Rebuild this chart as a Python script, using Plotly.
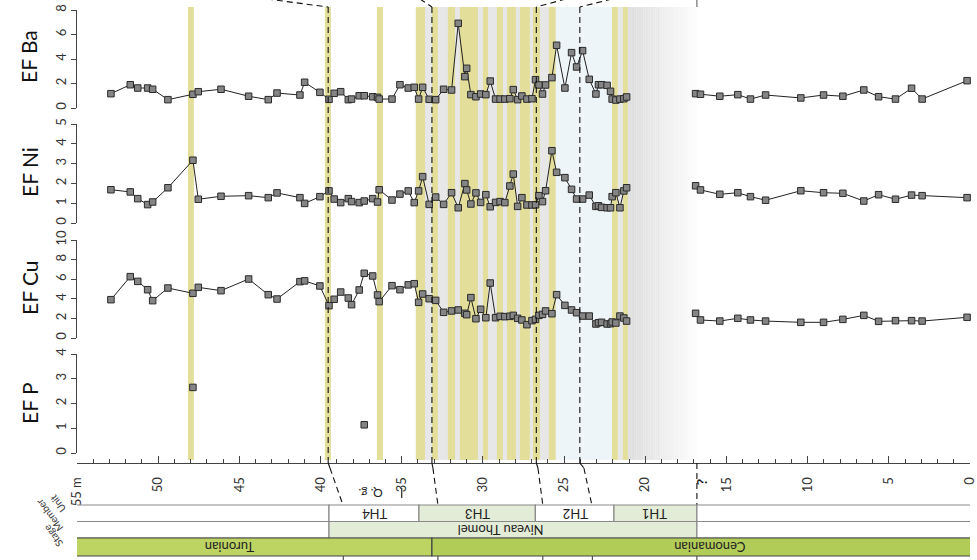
import plotly.graph_objects as go

W, H = 977, 560
FONT = "Lato"

# ---------------- data (depth in m) ----------------
depth = [52.91, 51.72, 51.26, 50.65, 50.34, 49.40, 47.86, 47.53, 46.13, 44.43,
         43.22, 42.68, 41.27, 40.98, 40.04, 39.48, 39.16, 38.76, 38.29, 38.09,
         37.62, 37.31, 36.79, 36.49, 36.39, 35.60, 35.11, 34.60, 34.23, 33.96,
         33.71, 33.31, 32.91, 32.42, 31.93, 31.52, 31.11, 31.00, 30.74, 30.43,
         30.14, 29.82, 29.55, 29.22, 28.94, 28.65, 28.34, 28.13, 27.86, 27.60,
         27.29, 26.98, 26.76, 26.55, 26.33, 26.14, 25.75, 25.46, 24.95, 24.54,
         24.23, 23.86, 23.45, 23.04, 22.88, 22.69, 22.35, 22.14, 22.04, 21.81,
         21.56, 21.32, 21.15,
         16.90, 16.60, 15.41, 14.30, 13.52, 12.59, 10.42, 9.02, 7.83, 6.54,
         5.63, 4.59, 3.60, 2.95, 0.18]

ef_ba = [1.17, 1.90, 1.63, 1.63, 1.53, 0.68, 1.12, 1.33, 1.53, 0.96,
         0.68, 1.22, 1.06, 2.10, 1.28, 0.71, 1.20, 1.33, 0.68, 0.73,
         1.00, 1.00, 0.92, 0.87, 0.73, 0.73, 1.90, 1.63, 1.69, 0.73,
         1.69, 0.71, 0.68, 1.53, 1.47, 6.91, 2.56, 3.24, 1.09, 0.92,
         1.14, 1.09, 2.20, 0.73, 0.73, 0.73, 0.76, 1.50, 0.68, 0.98,
         0.73, 0.76, 2.31, 1.88, 1.14, 1.88, 2.48, 5.12, 1.63, 4.52,
         3.35, 4.68, 2.34, 1.14, 1.90, 1.90, 1.85, 1.36, 0.73, 0.65,
         0.73, 0.76, 0.90,
         1.17, 1.12, 0.96, 1.09, 0.73, 1.06, 0.82, 1.06, 0.96, 1.47,
         0.92, 0.73, 1.61, 0.73, 2.23]

ef_ni = [1.68, 1.57, 1.23, 0.93, 1.06, 1.78, 3.17, 1.20, 1.35, 1.38,
         1.28, 1.52, 1.28, 0.99, 1.33, 1.62, 1.21, 1.03, 1.23, 1.08,
         1.03, 1.11, 1.23, 1.06, 1.68, 1.16, 1.46, 1.62, 1.03, 1.62,
         2.34, 0.94, 1.31, 0.94, 1.53, 0.77, 1.99, 1.67, 0.96, 1.52,
         1.04, 1.43, 0.82, 1.04, 1.08, 1.03, 1.87, 2.47, 0.84, 1.28,
         0.91, 0.91, 0.92, 1.38, 1.08, 1.63, 3.65, 2.56, 2.29, 1.70,
         1.21, 1.21, 1.41, 0.84, 0.87, 0.79, 0.77, 0.77, 1.33, 1.53,
         0.77, 1.62, 1.78,
         1.88, 1.67, 1.45, 1.53, 1.33, 1.15, 1.63, 1.53, 1.50, 1.11,
         1.43, 1.20, 1.41, 1.38, 1.28]

ef_cu = [3.91, 6.26, 5.78, 4.93, 3.81, 5.10, 4.56, 5.17, 4.83, 6.02,
         4.42, 3.98, 5.75, 5.83, 5.31, 3.30, 3.95, 4.69, 4.08, 3.40,
         4.90, 6.60, 6.33, 4.39, 3.71, 5.34, 4.93, 5.42, 5.54, 3.64,
         4.49, 4.01, 3.84, 2.62, 2.76, 2.86, 2.52, 2.38, 4.12, 1.97,
         2.93, 2.07, 5.61, 2.07, 2.21, 2.18, 2.21, 2.31, 2.01, 1.84,
         1.36, 1.77, 1.90, 2.31, 2.41, 2.76, 2.48, 4.42, 3.33, 2.86,
         2.58, 2.24, 2.24, 1.43, 1.56, 1.60, 1.43, 1.46, 1.63, 1.53,
         2.24, 2.04, 1.73,
         2.52, 1.84, 1.73, 2.01, 1.84, 1.73, 1.60, 1.60, 1.90, 2.31,
         1.70, 1.77, 1.77, 1.73, 2.11]

p_depth = [47.86, 37.31]
ef_p = [2.65, 1.14]

x_tickvals = [55, 50, 45, 40, 35, 30, 25, 20, 15, 10, 5, 0]
x_ticktext = ["55 m", "50", "45", "40", "35", "30", "25", "20", "15", "10", "5", "0"]

# shaded intervals (depth from, to)
yellow_bands = [(48.17, 47.80), (39.73, 39.36), (36.53, 36.16), (34.13, 33.57),
                (33.14, 32.77), (32.16, 31.72), (31.42, 30.31), (30.00, 29.69),
                (29.14, 28.77), (28.52, 27.97), (27.72, 27.11), (26.92, 26.49),
                (25.94, 25.51), (22.06, 21.69), (21.38, 21.07)]
grey_bands = [(33.57, 33.14), (32.77, 32.16), (31.72, 31.42), (30.31, 30.00),
              (29.69, 29.14), (28.77, 28.52), (27.97, 27.72), (27.11, 26.92),
              (26.49, 25.94), (21.69, 21.38)]
blue_band = (25.51, 22.06)
fade_band = (21.07, 16.82)

# stratigraphy (depth from, to, label, fill)
units = [(55.55, 39.48, "", "white"), (39.48, 33.94, "TH4", "white"),
         (33.94, 26.77, "TH3", "#e2ecd6"), (26.77, 21.93, "TH2", "white"),
         (21.93, 16.82, "TH1", "#e2ecd6"), (16.82, -0.17, "", "white")]
unit_label_pos = [None, 36.7, 30.3, 24.3, 19.4, None]
members = [(55.55, 39.48, "", "white"), (39.48, 16.82, "Niveau Thomel", "#e2ecd6"),
           (16.82, -0.17, "", "white")]
member_label_pos = [None, 28.9, None]
stages = [(55.55, 33.14, "Turonian", "#bdd362"), (33.14, -0.17, "Cenomanian", "#b2cc58")]
stage_label_pos = [45.6, 16.0]

L, R = 77, 970


def yp(px):
    return 1 - px / H


def xp(px):
    return (px - L) / (R - L)


def with_gaps(d, v, gap=3.0):
    xs, ys = [], []
    for i in range(len(d)):
        if i > 0 and abs(d[i] - d[i - 1]) > gap:
            xs.append(None)
            ys.append(None)
        xs.append(d[i])
        ys.append(v[i])
    return xs, ys


fig = go.Figure()
marker = dict(symbol="square", size=6.5, color="#858585", line=dict(color="#2a2a2a", width=1))
line = dict(color="#222222", width=1)

for vals, ax in [(ef_ba, "y"), (ef_ni, "y2"), (ef_cu, "y3")]:
    xs, ys = with_gaps(depth, vals)
    fig.add_trace(go.Scatter(x=xs, y=ys, mode="lines+markers", marker=marker, line=line,
                             yaxis=ax, xaxis="x", showlegend=False, connectgaps=False,
                             cliponaxis=False, hoverinfo="skip"))
fig.add_trace(go.Scatter(x=p_depth, y=ef_p, mode="markers", marker=marker,
                         yaxis="y4", xaxis="x", showlegend=False, hoverinfo="skip"))

shapes = []
top_y, bot_y = yp(7), yp(460)
shapes.append(dict(type="rect", xref="x", yref="paper", x0=34.13, x1=25.51, y0=bot_y, y1=top_y,
                   fillcolor="#e7e7e7", line_width=0, layer="below"))
for a, b in grey_bands:
    shapes.append(dict(type="rect", xref="x", yref="paper", x0=a, x1=b, y0=bot_y, y1=top_y,
                       fillcolor="#e7e7e7", line_width=0, layer="below"))
for a, b in yellow_bands:
    shapes.append(dict(type="rect", xref="x", yref="paper", x0=a, x1=b, y0=bot_y, y1=top_y,
                       fillcolor="#e3de9a", line_width=0, layer="below"))
shapes.append(dict(type="rect", xref="x", yref="paper", x0=blue_band[0], x1=blue_band[1],
                   y0=bot_y, y1=top_y, fillcolor="#edf5f8", line_width=0, layer="below"))
n = 40
a, b = fade_band
for i in range(n):
    g = int(0xdd + (0xfd - 0xdd) * i / (n - 1))
    x0 = a + (b - a) * i / n
    x1 = a + (b - a) * (i + 1) / n
    shapes.append(dict(type="rect", xref="x", yref="paper", x0=x0, x1=x1 - 0.005, y0=bot_y, y1=top_y,
                       fillcolor=f"rgb({g},{g},{g})", line_width=0, layer="below"))

dash = dict(color="#111111", width=1.1, dash="6px,4px")
corr = [
    (39.53, 43.3, (39.42, 38.62), 38.60),
    (33.14, 33.88, (33.08, 32.77), 32.77),
    (26.71, 24.9, (26.61, 26.31), 26.31),
    (24.03, 22.06, (23.78, 23.29), 23.26),
]
for dmain, dtop, (b0, b1), dlow in corr:
    shapes.append(dict(type="line", xref="x", yref="paper", x0=dmain, x1=dmain,
                       y0=yp(7), y1=yp(463), line=dash, layer="above"))
    shapes.append(dict(type="line", xref="x", yref="paper", x0=dtop, x1=dmain,
                       y0=yp(-1), y1=yp(7), line=dash, layer="above"))
    shapes.append(dict(type="line", xref="x", yref="paper", x0=dmain, x1=b0,
                       y0=yp(463), y1=yp(468), line=dash, layer="above"))
    shapes.append(dict(type="line", xref="x", yref="paper", x0=b0, x1=b1,
                       y0=yp(468), y1=yp(505), line=dash, layer="above"))
    shapes.append(dict(type="line", xref="x", yref="paper", x0=dlow, x1=dlow,
                       y0=yp(556), y1=yp(561), line=dict(color="#333", width=1)))
shapes.append(dict(type="line", xref="x", yref="paper", x0=16.82, x1=16.82,
                   y0=yp(-1), y1=yp(7), line=dict(color="#555", width=1)))
shapes.append(dict(type="line", xref="x", yref="paper", x0=16.82, x1=16.82,
                   y0=yp(463), y1=yp(505), line=dash))
shapes.append(dict(type="line", xref="x", yref="paper", x0=16.82, x1=16.82,
                   y0=yp(556), y1=yp(561), line=dict(color="#333", width=1)))
shapes.append(dict(type="line", xref="x", yref="paper", x0=35.0, x1=35.0,
                   y0=yp(488), y1=yp(498), line=dict(color="#222", width=1.2)))

annotations = []
rows = [(units, unit_label_pos, 505, 521.5, "#8a8a8a"),
        (members, member_label_pos, 521.5, 538, "#8a8a8a"),
        (stages, stage_label_pos, 538, 556, "#444444")]
for items, lpos, ytop, ybot, lc in rows:
    for (d0, d1, lab, fill), lp in zip(items, lpos):
        shapes.append(dict(type="rect", xref="x", yref="paper", x0=d0, x1=d1,
                           y0=yp(ybot), y1=yp(ytop), fillcolor=fill,
                           line=dict(color=lc, width=1.2)))
        if lab:
            annotations.append(dict(x=lp, y=yp((ytop + ybot) / 2), xref="x", yref="paper",
                                    text=lab, showarrow=False, textangle=180,
                                    xanchor="center", yanchor="middle",
                                    font=dict(family=FONT, size=13, color="#222")))

annotations.append(dict(x=36.9, y=yp(494), xref="x", yref="paper", text="Q. g.",
                        showarrow=False, textangle=180, xanchor="center", yanchor="middle",
                        font=dict(family=FONT, size=12, color="#222")))
annotations.append(dict(x=16.55, y=yp(482), xref="x", yref="paper", text="<b>?</b>",
                        showarrow=False, textangle=-90, xanchor="center", yanchor="middle",
                        font=dict(family=FONT, size=14, color="#222")))

for txt, cx, cy in [("Stage", 53, 536), ("Member", 49, 515), ("Unit", 58, 504)]:
    annotations.append(dict(x=xp(cx), y=yp(cy), xref="paper", yref="paper", text=txt,
                            showarrow=False, textangle=-127, xanchor="center", yanchor="middle",
                            font=dict(family=FONT, size=10, color="#333")))

for txt, cy in [("EF Ba", 57), ("EF Ni", 172), ("EF Cu", 288), ("EF P", 403)]:
    annotations.append(dict(x=xp(29), y=yp(cy), xref="paper", yref="paper", text=txt,
                            showarrow=False, textangle=-90, xanchor="center", yanchor="middle",
                            font=dict(family=FONT, size=21, color="#111")))

yax = dict(showline=True, linecolor="#444", linewidth=1, ticks="outside", ticklen=5,
           tickcolor="#444", tickangle=-90, showgrid=False, zeroline=False, anchor="x",
           automargin=False, fixedrange=True, tickfont=dict(family=FONT, size=13, color="#333"))

fig.update_layout(
    width=W, height=H, margin=dict(l=L, r=W - R, t=0, b=0, autoexpand=False),
    plot_bgcolor="white", paper_bgcolor="white",
    xaxis=dict(range=[55, 0], anchor="free", position=yp(463), showgrid=False, zeroline=False,
               showline=True, linecolor="#444", linewidth=1, automargin=False, fixedrange=True,
               tickvals=x_tickvals, ticktext=x_ticktext, tickangle=-90,
               ticks="inside", ticklen=7, tickcolor="#444", ticklabeloverflow="allow",
               ticklabelstandoff=8,
               minor=dict(tickvals=list(range(0, 56)), ticks="inside", ticklen=4, tickcolor="#444"),
               tickfont=dict(family=FONT, size=13, color="#333")),
    yaxis=dict(yax, domain=[yp(108), yp(10)], range=[0, 8], tickvals=[0, 2, 4, 6, 8]),
    yaxis2=dict(yax, domain=[yp(223), yp(124)], range=[0, 5], tickvals=[0, 1, 2, 3, 4, 5]),
    yaxis3=dict(yax, domain=[yp(338), yp(240)], range=[0, 10], tickvals=[0, 2, 4, 6, 8, 10]),
    yaxis4=dict(yax, domain=[yp(453), yp(354)], range=[0, 4], tickvals=[0, 1, 2, 3, 4]),
    shapes=shapes, annotations=annotations,
)

fig.write_html("out.html", config={"displayModeBar": False},
               post_script="document.body.style.margin='0';")
